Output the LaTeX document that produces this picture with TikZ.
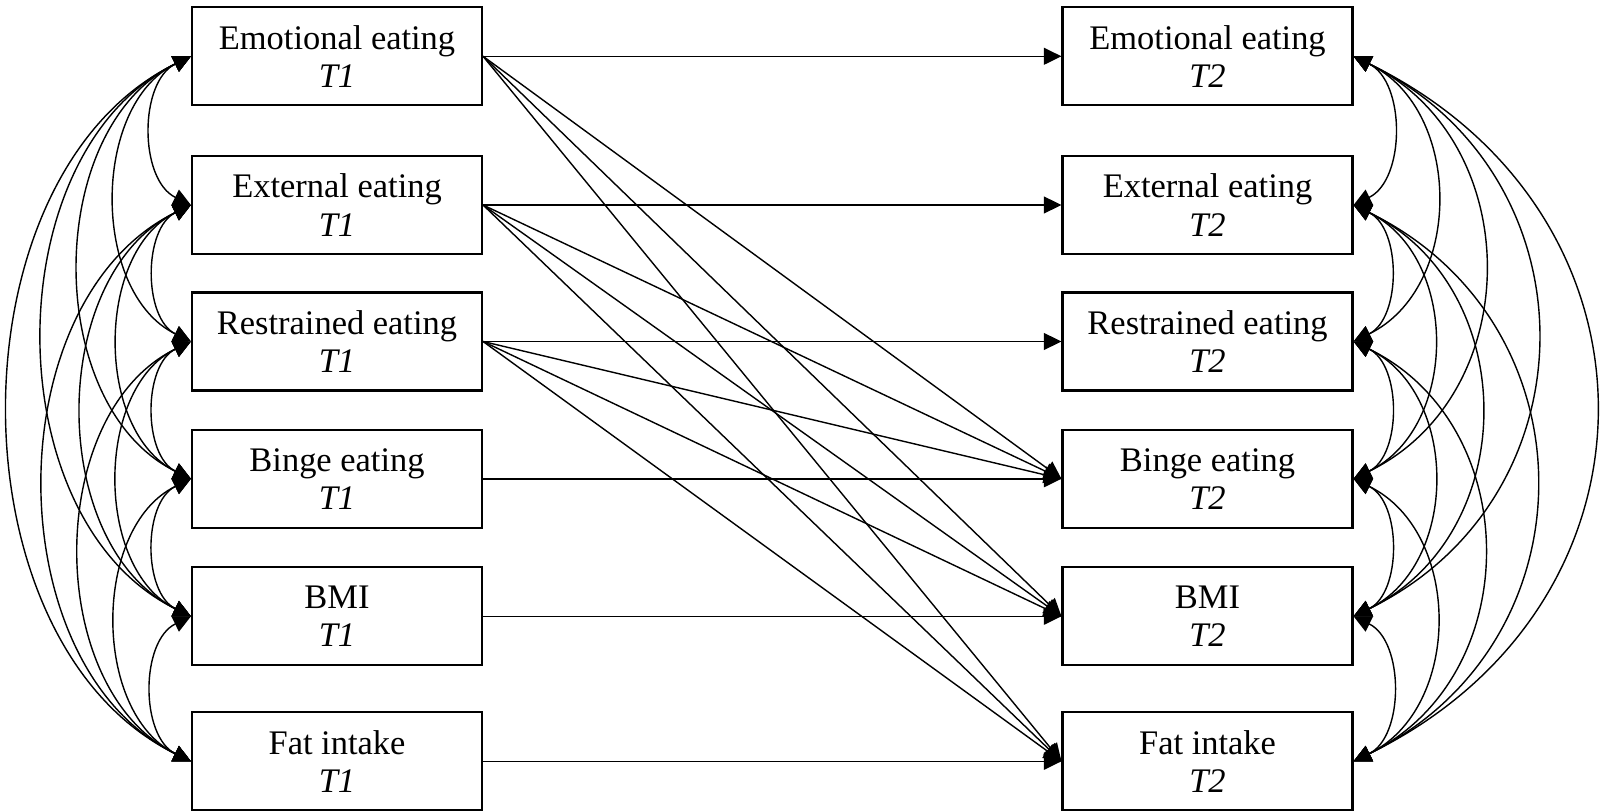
\documentclass[tikz,border=0pt]{standalone}
\usepackage{fontspec}
\setmainfont{Liberation Serif}
\usetikzlibrary{arrows.meta}

\begin{document}
\begin{tikzpicture}[
        var/.style={draw, line width=0.6pt, minimum width=2.9cm, minimum height=0.98cm, inner sep=0pt, align=center, font=\fontsize{9.8}{10.9}\selectfont},
        reg/.style={line width=0.4pt, -{Triangle[length=5pt,width=4.8pt]}},
        cov/.style={line width=0.4pt, {Triangle[length=5pt,width=4.8pt]}-{Triangle[length=5pt,width=4.8pt]}}
    ]
        \useasboundingbox (0,0) rectangle (16,-8.12);

        \node[var] (eeT1) at (3.37,-0.563) {Emotional eating\\\textit{T1}};
        \node[var] (exT1) at (3.37,-2.05) {External eating\\\textit{T1}};
        \node[var] (reT1) at (3.37,-3.415) {Restrained eating\\\textit{T1}};
        \node[var] (beT1) at (3.37,-4.788) {Binge eating\\\textit{T1}};
        \node[var] (bmiT1) at (3.37,-6.163) {BMI\\\textit{T1}};
        \node[var] (fiT1) at (3.37,-7.613) {Fat intake\\\textit{T1}};

        \node[var] (eeT2) at (12.075,-0.563) {Emotional eating\\\textit{T2}};
        \node[var] (exT2) at (12.075,-2.05) {External eating\\\textit{T2}};
        \node[var] (reT2) at (12.075,-3.415) {Restrained eating\\\textit{T2}};
        \node[var] (beT2) at (12.075,-4.788) {Binge eating\\\textit{T2}};
        \node[var] (bmiT2) at (12.075,-6.163) {BMI\\\textit{T2}};
        \node[var] (fiT2) at (12.075,-7.613) {Fat intake\\\textit{T2}};

        \draw[reg] (eeT1.east) -- (eeT2.west);
        \draw[reg] (exT1.east) -- (exT2.west);
        \draw[reg] (reT1.east) -- (reT2.west);
        \draw[reg] (beT1.east) -- (beT2.west);
        \draw[reg] (bmiT1.east) -- (bmiT2.west);
        \draw[reg] (fiT1.east) -- (fiT2.west);

        \draw[reg] (eeT1.east) -- (beT2.west);
        \draw[reg] (eeT1.east) -- (bmiT2.west);
        \draw[reg] (eeT1.east) -- (fiT2.west);
        \draw[reg] (exT1.east) -- (beT2.west);
        \draw[reg] (exT1.east) -- (bmiT2.west);
        \draw[reg] (exT1.east) -- (fiT2.west);
        \draw[reg] (reT1.east) -- (beT2.west);
        \draw[reg] (reT1.east) -- (bmiT2.west);
        \draw[reg] (reT1.east) -- (fiT2.west);

        \draw[cov] (eeT1.west) to[bend right=64] (exT1.west);
        \draw[cov] (eeT1.west) to[bend right=64] (reT1.west);
        \draw[cov] (eeT1.west) to[bend right=64] (beT1.west);
        \draw[cov] (eeT1.west) to[bend right=64] (bmiT1.west);
        \draw[cov] (eeT1.west) to[bend right=64, looseness=0.98] (fiT1.west);
        \draw[cov] (exT1.west) to[bend right=64] (reT1.west);
        \draw[cov] (exT1.west) to[bend right=64] (beT1.west);
        \draw[cov] (exT1.west) to[bend right=64] (bmiT1.west);
        \draw[cov] (exT1.west) to[bend right=64] (fiT1.west);
        \draw[cov] (reT1.west) to[bend right=64] (beT1.west);
        \draw[cov] (reT1.west) to[bend right=64] (bmiT1.west);
        \draw[cov] (reT1.west) to[bend right=64] (fiT1.west);
        \draw[cov] (beT1.west) to[bend right=64] (bmiT1.west);
        \draw[cov] (beT1.west) to[bend right=64] (fiT1.west);
        \draw[cov] (bmiT1.west) to[bend right=64] (fiT1.west);

        \draw[cov] (eeT2.east) to[bend left=64] (exT2.east);
        \draw[cov] (eeT2.east) to[bend left=64, looseness=1.1] (reT2.east);
        \draw[cov] (eeT2.east) to[bend left=64, looseness=1.17] (beT2.east);
        \draw[cov] (eeT2.east) to[bend left=64, looseness=1.24] (bmiT2.east);
        \draw[cov] (eeT2.east) to[bend left=64, looseness=1.3] (fiT2.east);
        \draw[cov] (exT2.east) to[bend left=64] (reT2.east);
        \draw[cov] (exT2.east) to[bend left=64, looseness=1.1] (beT2.east);
        \draw[cov] (exT2.east) to[bend left=64, looseness=1.17] (bmiT2.east);
        \draw[cov] (exT2.east) to[bend left=64, looseness=1.24] (fiT2.east);
        \draw[cov] (reT2.east) to[bend left=64] (beT2.east);
        \draw[cov] (reT2.east) to[bend left=64, looseness=1.1] (bmiT2.east);
        \draw[cov] (reT2.east) to[bend left=64, looseness=1.17] (fiT2.east);
        \draw[cov] (beT2.east) to[bend left=64] (bmiT2.east);
        \draw[cov] (beT2.east) to[bend left=64, looseness=1.1] (fiT2.east);
        \draw[cov] (bmiT2.east) to[bend left=64] (fiT2.east);
\end{tikzpicture}
\end{document}
